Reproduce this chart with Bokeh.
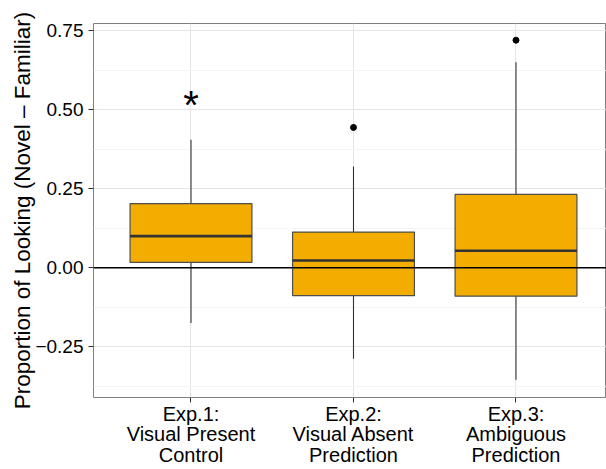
from bokeh.plotting import figure
from bokeh.models import FixedTicker, Span, ColumnDataSource, Range1d
from bokeh.core.properties import value
from bokeh.embed import file_html
from bokeh.resources import INLINE

# ---- data ----
groups = ["Exp.1:\nVisual Present\nControl", "Exp.2:\nVisual Absent\nPrediction", "Exp.3:\nAmbiguous\nPrediction"]
positions = [1, 2, 3]
q1 = [0.017, -0.088, -0.090]
median = [0.100, 0.023, 0.054]
q3 = [0.203, 0.113, 0.232]
whisk_lo = [-0.175, -0.288, -0.354]
whisk_hi = [0.405, 0.320, 0.650]
outlier_x = [2, 3]
outlier_y = [0.444, 0.720]
star_x = [1]
star_y = [0.516]
star_text = ["*"]
y_ticks = [-0.25, 0.0, 0.25, 0.5, 0.75]
y_tick_labels = ["\u22120.25", "0.00", "0.25", "0.50", "0.75"]
y_minor = [-0.375, -0.125, 0.125, 0.375, 0.625]

FONT = "Liberation Sans"
FILL = "#F2AD00"

src = ColumnDataSource(dict(x=positions, q1=q1, med=median, q3=q3, lo=whisk_lo, hi=whisk_hi,
                            left=[v - 0.375 for v in positions], right=[v + 0.375 for v in positions]))

p = figure(width=606, height=469, output_backend="svg", toolbar_location=None,
           x_range=Range1d(0.4, 3.557), y_range=Range1d(-0.4105, 0.7728),
           min_border_left=93, min_border_right=0, min_border_top=23, min_border_bottom=72)

p.background_fill_color = "white"
p.border_fill_color = "white"
p.outline_line_color = "#7f7f7f"
p.outline_line_width = 1

# grid
p.ygrid.ticker = FixedTicker(ticks=y_ticks, minor_ticks=y_minor)
p.ygrid.grid_line_color = "#e5e5e5"
p.ygrid.minor_grid_line_color = "#f5f5f5"
p.xgrid.ticker = FixedTicker(ticks=positions)
p.xgrid.grid_line_color = "#e5e5e5"

# axes
p.yaxis.ticker = FixedTicker(ticks=y_ticks, minor_ticks=y_minor)
p.yaxis.major_label_overrides = {t: l for t, l in zip(y_ticks, y_tick_labels)}
p.xaxis.ticker = FixedTicker(ticks=positions)
p.xaxis.major_label_overrides = {t: l for t, l in zip(positions, groups)}
for ax in (p.xaxis, p.yaxis):
    ax.axis_line_color = None
    ax.major_tick_line_color = "#333333"
    ax.major_tick_out = 5
    ax.major_tick_in = 0
    ax.minor_tick_line_color = None
    ax.major_label_text_font = FONT
    ax.major_label_text_color = "black"
p.yaxis.major_label_text_font_size = "19px"
p.xaxis.major_label_text_font_size = "20px"
p.xaxis.major_label_text_line_height = 0.95
p.yaxis.major_label_standoff = 5
p.xaxis.major_label_standoff = 0
p.yaxis.axis_label = "Proportion of Looking (Novel \u2013 Familiar)"
p.yaxis.axis_label_text_font = FONT
p.yaxis.axis_label_text_font_size = "22.5px"
p.yaxis.axis_label_text_font_style = "normal"
p.yaxis.axis_label_text_color = "black"
p.yaxis.axis_label_standoff = -3

# whiskers
p.segment(x0="x", y0="q3", x1="x", y1="hi", source=src, line_color="#333333", line_width=1.1)
p.segment(x0="x", y0="lo", x1="x", y1="q1", source=src, line_color="#333333", line_width=1.1)
# boxes
p.quad(left="left", right="right", bottom="q1", top="q3", source=src,
       fill_color=FILL, line_color="#4d4d4d", line_width=1.2)
# medians
p.segment(x0="left", y0="med", x1="right", y1="med", source=src, line_color="#333333", line_width=2.6)
# outliers
p.scatter(outlier_x, outlier_y, size=6, color="black")
# zero line
p.add_layout(Span(location=0, dimension="width", line_color="black", line_width=1.4))
# significance star
p.text(x=star_x, y=star_y, text=star_text, text_font=value(FONT), text_font_size="40px",
       text_align="center", text_baseline="alphabetic", text_color="black")

open("out.html", "w").write(file_html(p, INLINE))
